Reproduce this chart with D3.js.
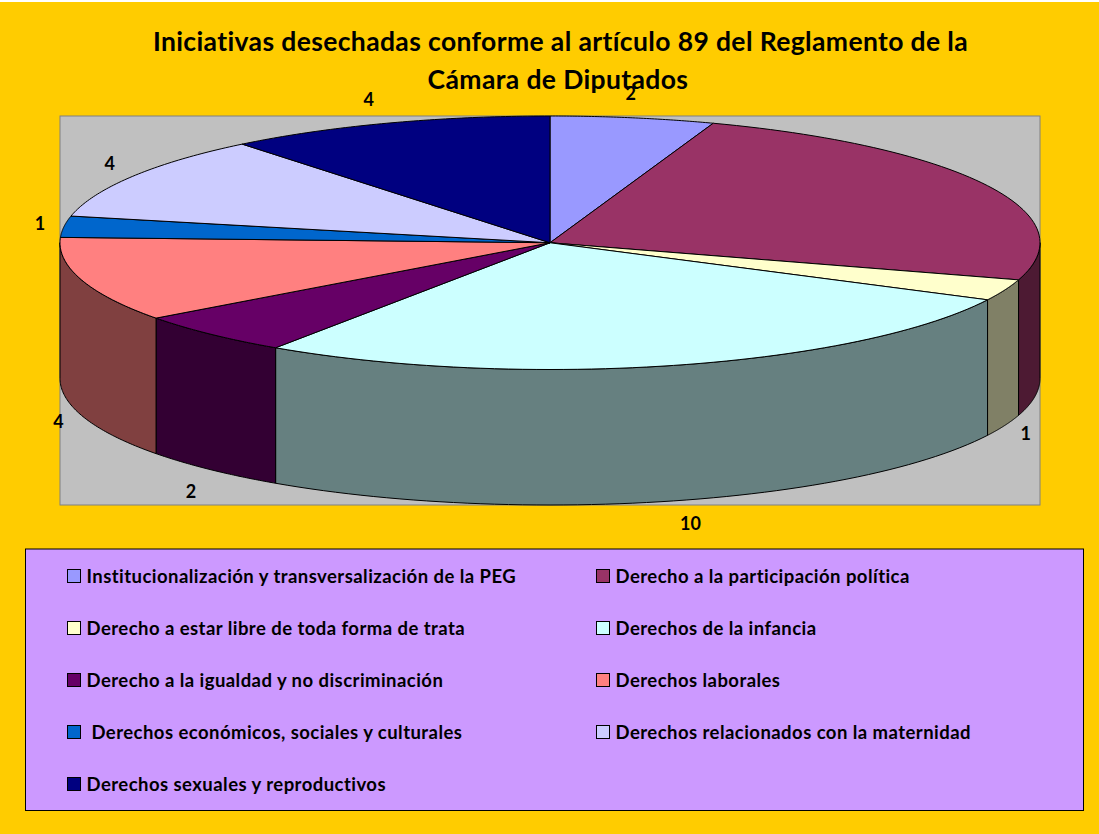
<!DOCTYPE html>
<html>
<head>
<meta charset="utf-8">
<script src="https://cdn.jsdelivr.net/npm/d3@7"></script>
<style>
  html, body { margin: 0; padding: 0; background: #fff; }
  svg { display: block; }
  text { font-family: Lato, "Open Sans", sans-serif; font-weight: 700; fill: #000; white-space: pre; }
</style>
</head>
<body>
<div id="chart"></div>
<script>
const categories = [
  "Institucionalización y transversalización de la PEG",
  "Derecho a la participación política",
  "Derecho a estar libre de toda forma de trata",
  "Derechos de la infancia",
  "Derecho a la igualdad y no discriminación",
  "Derechos laborales",
  " Derechos económicos, sociales y culturales",
  "Derechos relacionados con la maternidad",
  "Derechos sexuales y reproductivos"
];
const values = [2, 9, 1, 10, 2, 4, 1, 4, 4];
// the second slice has no label in the original chart
const valueLabels = ["2", "", "1", "10", "2", "4", "1", "4", "4"];
const colors = ["#9999FF", "#993366", "#FFFFCC", "#CCFFFF", "#660066", "#FF8080", "#0066CC", "#CCCCFF", "#000080"];
const titleLines = ["Iniciativas desechadas conforme al artículo 89 del Reglamento de la", "Cámara de Diputados"];

const W = 1099, H = 834;
const plot = { left: 60, top: 116, right: 1040, bottom: 505 };
const depth = 135.5;
const legendBox = { left: 25.5, top: 549, right: 1083.5, bottom: 810.5 };

// label nudges away from the rim of the ellipse, same order as values
const labelNudge = [[-2, -24], [0, 0], [21, 8], [17, 23], [-20, 22], [-23, 6], [-24, -3], [-23, -13], [-18, -24]];
const titleX = [560.5, 558];

const svg = d3.select("#chart").append("svg").attr("width", W).attr("height", H);

svg.append("rect").attr("x", 0).attr("y", 2).attr("width", W).attr("height", H - 2).attr("fill", "#FFCC00");

svg.append("rect")
  .attr("x", plot.left).attr("y", plot.top)
  .attr("width", plot.right - plot.left).attr("height", plot.bottom - plot.top)
  .attr("fill", "#C0C0C0").attr("stroke", "#808080").attr("stroke-width", 1);

// unit circle -> top face of the pie
const x = d3.scaleLinear().domain([-1, 1]).range([plot.left, plot.right]);
const y = d3.scaleLinear().domain([1, -1]).range([plot.top, plot.bottom - depth]);

const pie = d3.pie().sort(null).value(d => d);
const slices = pie(values);

const line = d3.line();
const rim = (a0, a1, dy = 0) => d3.range(0, 61).map(i => {
  const a = a0 + (a1 - a0) * i / 60;
  return [x(Math.sin(a)), y(Math.cos(a)) + dy];
});

// front walls, only the part of each slice facing the viewer
const g = svg.append("g").attr("stroke", "#000").attr("stroke-width", 1).attr("stroke-linejoin", "round");
slices.forEach((d, i) => {
  const a0 = Math.max(d.startAngle, Math.PI / 2);
  const a1 = Math.min(d.endAngle, Math.PI * 3 / 2);
  if (a1 <= a0) return;
  const c = d3.rgb(colors[i]);
  const pts = rim(a0, a1).concat(rim(a0, a1, depth).reverse());
  g.append("path")
    .attr("d", line(pts) + "Z")
    .attr("fill", d3.rgb(c.r / 2, c.g / 2, c.b / 2));
});

// top face
slices.forEach((d, i) => {
  const pts = [[x(0), y(0)]].concat(rim(d.startAngle, d.endAngle));
  g.append("path")
    .attr("d", line(pts) + "Z")
    .attr("fill", colors[i]);
});

// title
svg.selectAll(".title").data(titleLines).enter().append("text")
  .attr("class", "title")
  .attr("x", (d, i) => titleX[i])
  .attr("y", (d, i) => 50.5 + i * 38.5)
  .attr("text-anchor", "middle")
  .style("font-size", "26.5px")
  .style("letter-spacing", "0.37px")
  .text(d => d);

// data labels
slices.forEach((d, i) => {
  if (!valueLabels[i]) return;
  const mid = (d.startAngle + d.endAngle) / 2;
  const front = Math.cos(mid) < 0;
  svg.append("text")
    .attr("x", x(Math.sin(mid)) + labelNudge[i][0])
    .attr("y", y(Math.cos(mid)) + (front ? depth : 0) + labelNudge[i][1])
    .attr("dy", "0.35em")
    .attr("text-anchor", "middle")
    .style("font-size", "18px")
    .text(valueLabels[i]);
});

// legend
svg.append("rect")
  .attr("x", legendBox.left).attr("y", legendBox.top)
  .attr("width", legendBox.right - legendBox.left).attr("height", legendBox.bottom - legendBox.top)
  .attr("fill", "#CC99FF").attr("stroke", "#000").attr("stroke-width", 1);

const legendRow = d3.scalePoint().domain(d3.range(5)).range([576, 784]);
const legendCol = d3.scaleOrdinal().domain([0, 1]).range([67.5, 596.5]);

const items = svg.selectAll(".legend-item").data(categories).enter().append("g")
  .attr("class", "legend-item")
  .attr("transform", (d, i) => `translate(${legendCol(i % 2)},${legendRow(Math.floor(i / 2))})`);

items.append("rect")
  .attr("x", 0).attr("y", -6.5).attr("width", 13).attr("height", 13)
  .attr("fill", (d, i) => colors[i])
  .attr("stroke", "#000").attr("stroke-width", 1);

items.append("text")
  .attr("x", 19)
  .attr("y", 1)
  .attr("dy", "0.35em")
  .style("font-size", "18.5px")
  .style("letter-spacing", "0.45px")
  .text(d => d);
</script>
</body>
</html>
